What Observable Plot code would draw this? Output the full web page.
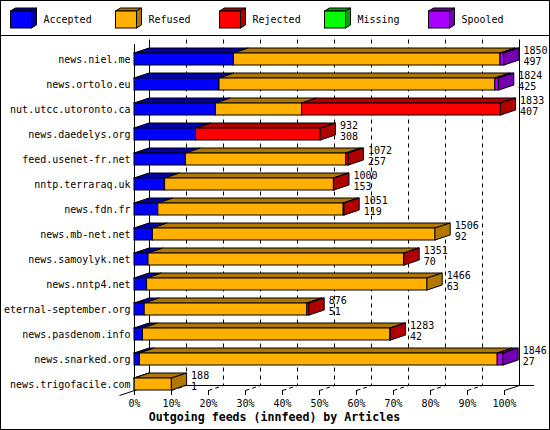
<!DOCTYPE html>
<html><head><meta charset="utf-8">
<script src="https://cdn.jsdelivr.net/npm/d3@7"></script>
<script src="https://cdn.jsdelivr.net/npm/@observablehq/plot@0.6"></script>
<style>
html,body{margin:0;padding:0;background:#fff;}
#wrap{position:relative;width:550px;height:430px;overflow:hidden;font-family:"DejaVu Sans Mono",monospace;background:#fff;}
#frame{position:absolute;left:0;top:0;width:550px;height:430px;box-sizing:border-box;border:1px solid #000;pointer-events:none;}
#legend{position:absolute;left:0;top:0;}
#chart{position:absolute;left:0;top:36px;}
#title{position:absolute;left:0;top:409px;width:549px;text-align:center;font-weight:bold;font-size:11.6px;line-height:16px;color:#000;}
</style></head>
<body>
<div id="wrap"><div id="legend"></div><div id="chart"></div><div id="title">Outgoing feeds (innfeed) by Articles</div><div id="frame"></div></div>
<script>
const hosts = ["news.niel.me","news.ortolo.eu","nut.utcc.utoronto.ca","news.daedelys.org","feed.usenet-fr.net","nntp.terraraq.uk","news.fdn.fr","news.mb-net.net","news.samoylyk.net","news.nntp4.net","eternal-september.org","news.pasdenom.info","news.snarked.org","news.trigofacile.com"];
const totals   = [1850,1824,1833,932,1072,1000,1051,1506,1351,1466,876,1283,1846,188];
const accepted = [497,425,407,308,257,153,119,92,70,63,51,42,27,1];
const refused  = [1333,1379,431,0,802,844,927,1414,1279,1403,813,1238,1789,187];
const rejected = [0,0,995,624,13,3,5,0,2,0,12,3,0,0];
const missing  = [0,0,0,0,0,0,0,0,0,0,0,0,0,0];
const spooled  = [20,20,0,0,0,0,0,0,0,0,0,0,30,0];
const categories = ["Accepted","Refused","Rejected","Missing","Spooled"];
const colors     = ["#0000ff","#ffb000","#ff0000","#00ff00","#aa00ff"];
const darkColors = ["#0000a8","#b07800","#b00000","#00a800","#7400b0"];
const tickValues = [0,10,20,30,40,50,60,70,80,90,100];
const tickLabels = ["0%","10%","20%","30%","40%","50%","60%","70%","80%","90%","100%"];

// ---- legend (plain SVG) ----
const lg = d3.select("#legend").append("svg").attr("width",550).attr("height",36);
lg.append("line").attr("x1",0).attr("x2",550).attr("y1",35.5).attr("y2",35.5).attr("stroke","#000");
categories.forEach((c,k)=>{
  const x0 = Math.round(10 + 104.5*k) + 0.5;
  const g = lg.append("g");
  g.append("polygon").attr("points",`${x0},11 ${x0+5},8 ${x0+26},8 ${x0+21},11`).attr("fill",darkColors[k]).attr("stroke","#000");
  g.append("polygon").attr("points",`${x0+21},11 ${x0+26},8 ${x0+26},25 ${x0+21},28`).attr("fill",darkColors[k]).attr("stroke","#000");
  g.append("rect").attr("x",x0).attr("y",11).attr("width",21).attr("height",17).attr("fill",colors[k]).attr("stroke","#000");
  g.append("text").attr("x",x0+33).attr("y",20).attr("dominant-baseline","middle")
    .attr("font-size","10px").attr("font-family",'"DejaVu Sans Mono", monospace').text(c);
});

// ---- chart ----
const series = [accepted, refused, rejected, missing, spooled];
const maxTotal = d3.max(totals);
const DX = 15/3.7;   // depth offset in % units
const DY = 0.2;      // depth offset in row units
const H = 0.24;      // half bar height in row units
const segs = [];
hosts.forEach((h,i)=>{
  let acc = 0;
  series.forEach((s,k)=>{
    const v = s[i];
    if (v > 0) { segs.push({row:i,k,x1:acc/maxTotal*100,x2:(acc+v)/maxTotal*100}); acc += v; }
  });
});
const topPts = [];
segs.forEach((s,j)=>{
  topPts.push({id:j,k:s.k,y:s.row-H,x1:s.x1,x2:s.x2});
  topPts.push({id:j,k:s.k,y:s.row-H-DY,x1:s.x1+DX,x2:s.x2+DX});
});
const lastSegs = hosts.map((h,i)=>segs.filter(s=>s.row===i).slice(-1)[0]);
const sidePts = [];
lastSegs.forEach(s=>{
  sidePts.push({row:s.row,k:s.k,x:s.x2,y1:s.row+H,y2:s.row-H});
  sidePts.push({row:s.row,k:s.k,x:s.x2+DX,y1:s.row+H-DY,y2:s.row-H-DY});
});
const inner = tickValues.filter(t=>t>0 && t<100);
const yTopBack = -0.78, yFloorBack = 13.04, yFloorFront = 13.24, yTickEnd = 13.44;

const chart = Plot.plot({
  width: 550, height: 374,
  marginLeft: 134, marginRight: 46, marginTop: 23, marginBottom: 26,
  x: {domain:[0,100], range:[134,504], axis:null},
  y: {domain:[0,13], range:[23,348], axis:null},
  color: {type:"identity"},
  style: {fontFamily:'"DejaVu Sans Mono", monospace', fontSize:"10px", background:"transparent", overflow:"visible", color:"#000"},
  marks: [
    // back grid
    Plot.ruleX(inner, {x:d=>d+DX, y1:yTopBack, y2:yFloorBack, stroke:"#000", strokeDasharray:"4,4"}),
    Plot.ruleX([0,100], {x:d=>d+DX, y1:yTopBack, y2:yFloorBack, stroke:"#000"}),
    // floor
    Plot.ruleY([yFloorBack], {x1:DX, x2:100+2*DX, stroke:"#000"}),
    Plot.link(inner, {x1:d=>d, y1:yFloorFront, x2:d=>d+DX, y2:yFloorBack, stroke:"#000", strokeDasharray:"4,3"}),
    Plot.link([100], {x1:d=>d, y1:yFloorFront, x2:d=>d+DX, y2:yFloorBack, stroke:"#000"}),
    Plot.link([0], {x1:d=>d-DX, y1:yTickEnd, x2:d=>d+DX, y2:yFloorBack, stroke:"#000"}),
    Plot.ruleX(tickValues.filter(t=>t>0), {x:d=>d, y1:yFloorFront, y2:yTickEnd, stroke:"#000"}),
    Plot.ruleX([0], {x:d=>d, y1:-0.6, y2:yTickEnd, stroke:"#000"}),
    // bars
    Plot.areaX(topPts, {y:"y", x1:"x1", x2:"x2", z:"id", fill:d=>darkColors[d.k], stroke:"#000", strokeWidth:1}),
    Plot.rect(segs, {x1:"x1", x2:"x2", y1:d=>d.row-H, y2:d=>d.row+H, fill:d=>colors[d.k], stroke:"#000", strokeWidth:1}),
    Plot.areaY(sidePts, {x:"x", y1:"y1", y2:"y2", z:"row", fill:d=>darkColors[d.k], stroke:"#000", strokeWidth:1}),
    // labels
    Plot.text(hosts, {x:0, y:(d,i)=>i, text:d=>d, textAnchor:"end", dx:-4, fontSize:10}),
    Plot.text(hosts, {x:(d,i)=>totals[i]/maxTotal*100+DX, y:(d,i)=>i, text:(d,i)=>String(totals[i]), textAnchor:"start", dx:4, dy:-9, fontSize:10}),
    Plot.text(hosts, {x:(d,i)=>totals[i]/maxTotal*100+DX, y:(d,i)=>i, text:(d,i)=>String(accepted[i]), textAnchor:"start", dx:4, dy:2, fontSize:10}),
    Plot.text(tickValues, {x:d=>d, y:13.76, text:(d,i)=>tickLabels[i], fontSize:10})
  ]
});
document.getElementById("chart").appendChild(chart);
</script>
</body></html>
